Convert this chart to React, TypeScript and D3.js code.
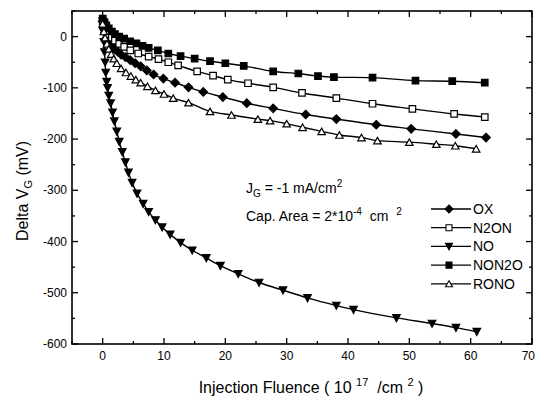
import { useRef, useEffect } from 'react'
import * as d3 from 'd3'

type Pt = [number, number]

const OX: Pt[] = [[0,30],[0.2,18],[0.4,8],[0.7,-2],[1,-10],[1.5,-18],[2,-25],[2.5,-30],[3,-35],[3.7,-40],[4.5,-46],[5.3,-52],[6.2,-58],[7.2,-66],[8.3,-74],[9.9,-82],[11.8,-90],[14,-99],[16.4,-108],[19.6,-118],[23.5,-130],[27.8,-140],[33.1,-152],[38.1,-161],[44.6,-172],[50.3,-180],[57.6,-190],[62.5,-197]]
const N2ON: Pt[] = [[0,30],[0.3,20],[0.6,12],[1,5],[1.5,-2],[2,-8],[2.7,-14],[3.5,-20],[4.5,-27],[5.8,-33],[7.5,-39],[9.1,-44],[10.7,-50],[12.3,-56],[15.4,-68],[18,-76],[20.4,-84],[23.7,-91],[27.8,-99],[32.5,-110],[38.1,-120],[44,-131],[50.5,-141],[57.3,-151],[62.3,-157]]
const NO: Pt[] = [[0,30],[0.1,10],[0.2,-10],[0.3,-30],[0.4,-50],[0.5,-70],[0.65,-88],[0.8,-100],[1,-115],[1.3,-130],[1.6,-148],[1.9,-165],[2.3,-185],[2.7,-205],[3.2,-225],[3.7,-245],[4.2,-265],[4.8,-285],[5.6,-306],[6.6,-326],[7.5,-342],[8.6,-358],[9.7,-372],[11,-386],[12.7,-402],[14.6,-417],[16.9,-432],[19.2,-447],[22.1,-463],[25.5,-480],[29.4,-495],[33.4,-510],[38.1,-525],[40.9,-533],[47.9,-549],[53.7,-560],[57.6,-568],[61,-576]]
const NON2O: Pt[] = [[0,35],[0.3,28],[0.6,22],[1,16],[1.5,10],[2,5],[2.7,0],[3.5,-4],[4.5,-9],[5.5,-13],[6.5,-18],[7.5,-22],[9,-27],[10.7,-33],[12.7,-38],[15,-43],[17.5,-48],[20,-52],[23,-57],[27.8,-68],[31.9,-72],[35.1,-77],[37.7,-79],[44,-80],[51,-86],[57,-87],[62.3,-90]]
const RONO: Pt[] = [[0,25],[0.2,10],[0.4,-2],[0.7,-14],[1,-24],[1.4,-34],[1.8,-43],[2.3,-52],[3,-62],[3.8,-70],[4.6,-77],[5.4,-84],[6.2,-90],[7.3,-97],[8.6,-105],[10,-112],[11.5,-120],[14,-129],[17.5,-146],[21,-153],[25.3,-161],[27.3,-164],[30,-170],[32.6,-177],[35.7,-185],[38.6,-192],[42.2,-197],[44.8,-203],[50,-206],[54.4,-210],[57.5,-213],[60.9,-219]]

const SERIES = [
  { name: 'OX', data: OX, marker: 'diamond', filled: true },
  { name: 'N2ON', data: N2ON, marker: 'square', filled: false },
  { name: 'NO', data: NO, marker: 'tridown', filled: true },
  { name: 'NON2O', data: NON2O, marker: 'square', filled: true },
  { name: 'RONO', data: RONO, marker: 'triup', filled: false },
]

const X_TICKS = [0, 10, 20, 30, 40, 50, 60, 70]
const Y_TICKS = [0, -100, -200, -300, -400, -500, -600]

const FONT = 'Arial, "Liberation Sans", Helvetica, sans-serif'

function markerPath(kind: string, s: number) {
  const h = s / 2
  if (kind === 'diamond') return `M0,${-h - 0.5}L${h + 0.5},0L0,${h + 0.5}L${-h - 0.5},0Z`
  if (kind === 'square') return `M${-h + 0.5},${-h + 0.5}H${h - 0.5}V${h - 0.5}H${-h + 0.5}Z`
  if (kind === 'tridown') return `M${-h},${-h + 0.5}H${h}L0,${h}Z`
  return `M0,${-h + 0.5}L${h},${h - 0.5}H${-h}Z`
}

export default function App() {
  const svgRef = useRef<SVGSVGElement>(null)

  useEffect(() => {
    if (!svgRef.current) return
    const W = 536, H = 399
    const pad = { l: 72, r: 4, t: 11, b: 55 }
    const svg = d3.select(svgRef.current)
    svg.selectAll('*').remove()
    svg.attr('width', W).attr('height', H).attr('viewBox', `0 0 ${W} ${H}`)

    const x = d3.scaleLinear().domain([-5, 70]).range([pad.l, W - pad.r])
    const y = d3.scaleLinear().domain([-600, 50]).range([H - pad.b, pad.t])
    const x0 = pad.l, x1 = W - pad.r, y0 = H - pad.b, y1 = pad.t

    // series lines + markers
    const line = d3.line<Pt>().x(d => x(d[0])).y(d => y(d[1])).curve(d3.curveMonotoneX)
    SERIES.forEach(s => {
      svg.append('path').attr('d', line(s.data)).attr('fill', 'none')
        .attr('stroke', '#000').attr('stroke-width', 1.4)
      svg.append('g').selectAll('path').data(s.data).join('path')
        .attr('transform', d => `translate(${x(d[0])},${y(d[1])})`)
        .attr('d', markerPath(s.marker, 7.5))
        .attr('fill', s.filled ? '#000' : '#fff')
        .attr('stroke', '#000').attr('stroke-width', 1.2)
    })

    // frame
    svg.append('rect').attr('x', x0).attr('y', y1).attr('width', x1 - x0).attr('height', y0 - y1)
      .attr('fill', 'none').attr('stroke', '#000').attr('stroke-width', 1.6)

    // ticks (inward on all sides)
    const xMinor = d3.range(-5, 71, 5)
    const yMinor = d3.range(-600, 51, 50)
    xMinor.forEach(v => {
      const len = v % 10 === 0 ? 6 : 3
      svg.append('line').attr('x1', x(v)).attr('x2', x(v)).attr('y1', y0).attr('y2', y0 - len).attr('stroke', '#000').attr('stroke-width', 1.3)
      svg.append('line').attr('x1', x(v)).attr('x2', x(v)).attr('y1', y1).attr('y2', y1 + len).attr('stroke', '#000').attr('stroke-width', 1.3)
    })
    yMinor.forEach(v => {
      const len = v % 100 === 0 ? 6 : 3
      svg.append('line').attr('x1', x0).attr('x2', x0 + len).attr('y1', y(v)).attr('y2', y(v)).attr('stroke', '#000').attr('stroke-width', 1.3)
      svg.append('line').attr('x1', x1).attr('x2', x1 - len).attr('y1', y(v)).attr('y2', y(v)).attr('stroke', '#000').attr('stroke-width', 1.3)
    })

    svg.selectAll('.xt').data(X_TICKS).join('text')
      .attr('x', d => d === 70 ? W - 1 : x(d)).attr('y', y0 + 16)
      .attr('text-anchor', d => d === 70 ? 'end' : 'middle')
      .attr('font-size', 12).attr('font-family', FONT).attr('fill', '#000').text(d => d)
    svg.selectAll('.yt').data(Y_TICKS).join('text')
      .attr('x', x0 - 5).attr('y', d => y(d) + 4).attr('text-anchor', 'end')
      .attr('font-size', 12).attr('font-family', FONT).attr('fill', '#000').text(d => d)

    // axis titles
    const xl = svg.append('text').attr('x', 311).attr('y', 393).attr('text-anchor', 'middle')
      .attr('font-size', 16).attr('font-family', FONT).attr('fill', '#000').style('white-space', 'pre')
    xl.append('tspan').text('Injection Fluence ( 10 ')
    xl.append('tspan').attr('dy', -7).attr('font-size', 11).text('17')
    xl.append('tspan').attr('dy', 7).text('  /cm ')
    xl.append('tspan').attr('dy', -7).attr('font-size', 11).text('2')
    xl.append('tspan').attr('dy', 7).text(' )')

    const yl = svg.append('text').attr('transform', 'translate(28,191) rotate(-90)').attr('text-anchor', 'middle')
      .attr('font-size', 16).attr('font-family', FONT).attr('fill', '#000')
    yl.append('tspan').text('Delta V')
    yl.append('tspan').attr('dy', 4).attr('font-size', 11).text('G')
    yl.append('tspan').attr('dy', -4).text(' (mV)')

    // annotations
    const a1 = svg.append('text').attr('x', 246).attr('y', 193)
      .attr('font-size', 14).attr('font-family', FONT).attr('fill', '#000')
    a1.append('tspan').text('J')
    a1.append('tspan').attr('dy', 4).attr('font-size', 10).text('G')
    a1.append('tspan').attr('dy', -4).text(' = -1 mA/cm')
    a1.append('tspan').attr('dy', -6).attr('font-size', 10).text('2')

    const a2 = svg.append('text').attr('x', 246).attr('y', 221)
      .attr('font-size', 14).attr('font-family', FONT).attr('fill', '#000').style('white-space', 'pre')
    a2.append('tspan').text('Cap. Area = 2*10')
    a2.append('tspan').attr('dy', -6).attr('font-size', 10).text('-4')
    a2.append('tspan').attr('dy', 6).text('  cm  ')
    a2.append('tspan').attr('dy', -6).attr('font-size', 10).text('2')

    // legend
    SERIES.forEach((s, i) => {
      const ly = 209 + i * 18.7
      svg.append('line').attr('x1', 431).attr('x2', 471).attr('y1', ly).attr('y2', ly)
        .attr('stroke', '#000').attr('stroke-width', 1.3)
      svg.append('path').attr('transform', `translate(449,${ly})`).attr('d', markerPath(s.marker, 7))
        .attr('fill', s.filled ? '#000' : '#fff').attr('stroke', '#000').attr('stroke-width', 1.1)
      svg.append('text').attr('x', 473).attr('y', ly + 5).attr('font-size', 14)
        .attr('font-family', FONT).attr('fill', '#000').text(s.name)
    })
  }, [])

  return (
    <div style={{ position: 'absolute', left: 0, top: 0 }}>
      <svg ref={svgRef} style={{ display: 'block', background: '#fff' }} />
    </div>
  )
}
